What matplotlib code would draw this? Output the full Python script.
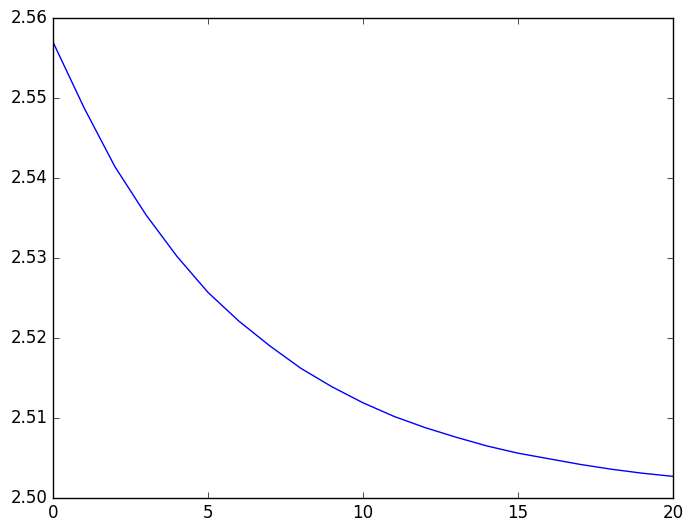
import matplotlib
matplotlib.use("Agg")
import matplotlib.pyplot as plt

plt.style.use("classic")

# values
x = list(range(21))
y = [2.5570, 2.5488, 2.5414, 2.5354, 2.5302, 2.5257, 2.5221, 2.5190, 2.5162,
     2.5139, 2.5119, 2.5102, 2.5088, 2.5076, 2.5065, 2.5056, 2.5049, 2.5042,
     2.5036, 2.5031, 2.5027]

fig = plt.figure(figsize=(6.93, 5.32), dpi=100)
ax = fig.add_axes([0.0765, 0.064, 0.8945, 0.902])
ax.plot(x, y, color="blue", linewidth=1)
ax.set_xlim(0, 20)
ax.set_ylim(2.50, 2.56)
ax.tick_params(labelsize=12)

fig.savefig("out.png", dpi=100)
